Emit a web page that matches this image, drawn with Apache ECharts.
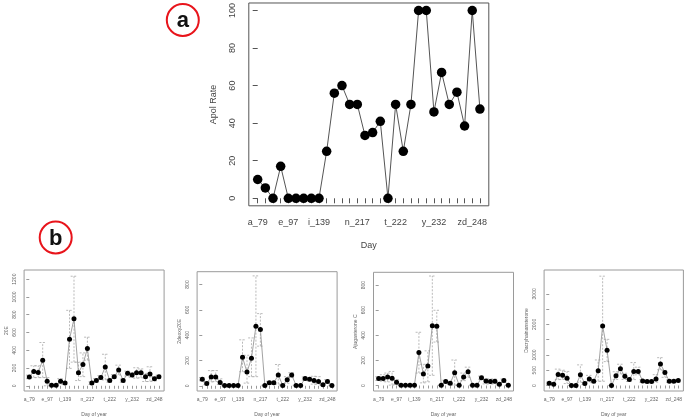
<!DOCTYPE html>
<html>
<head>
<meta charset="utf-8">
<script src="https://cdn.jsdelivr.net/npm/echarts@6/dist/echarts.min.js"></script>
<style>
  html, body { margin: 0; padding: 0; background: #fff; }
  #chart { width: 685px; height: 418px; }
</style>
</head>
<body>
<div id="chart"></div>
<script>
// sampling days (only some of them are labelled on the axis)
const days = [
  "a_79", "b_83", "c_87", "d_91", "e_97", "f_104", "g_111", "h_125", "i_139", "j_153",
  "k_167", "l_181", "m_195", "n_217", "o_218", "p_219", "q_220", "r_221", "t_222", "u_224",
  "v_226", "w_228", "x_230", "y_232", "z_235", "za_238", "zb_241", "zc_245", "zd_248", "ze_251"
];
const shownDays = [0, 4, 8, 13, 18, 23, 28];

// panel a
const apolRate = [10, 5.5, 0, 17, 0, 0, 0, 0, 0, 25, 56, 60, 50, 50, 33.5, 35, 41, 0, 50, 25,
  50, 100, 100, 46, 67, 50, 56.5, 38.5, 100, 47.5];
const apolTicks = [0, 20, 40, 60, 80, 100];

// panel b: means and error bar ends
const e20 = [100, 160, 150, 288, 52, 5, 5, 52, 30, 524, 753, 148, 240, 420, 30, 59, 92, 212, 59, 103,
  177, 59, 140, 122, 148, 148, 103, 133, 78, 103];
const e20Lo = [80, 92, 92, 92, 0, 0, 0, 22, 15, 196, 266, 59, 103, 288, 15, 40, 70, 66, 40, 85,
  122, 40, 110, 95, 85, 90, 48, 48, 55, 85];
const e20Hi = [120, 225, 225, 487, 92, 10, 10, 80, 45, 849, 1233, 266, 370, 547, 45, 80, 115, 355, 75, 125,
  232, 75, 165, 150, 203, 190, 140, 214, 100, 120];
const e20Ticks = [0, 200, 400, 600, 800, 1000, 1200];

const deoxy = [52, 18, 70, 70, 26, 3, 3, 3, 3, 225, 108, 218, 470, 445, 3, 23, 23, 85, 3, 47,
  85, 3, 3, 57, 52, 41, 34, 8, 34, 3];
const deoxyLo = [40, 8, 30, 34, 10, 0, 0, 0, 0, 111, 21, 72, 72, 313, 0, 12, 12, 13, 0, 20,
  65, 0, 0, 45, 40, 13, 13, 2, 20, 0];
const deoxyHi = [65, 28, 120, 120, 55, 5, 5, 5, 5, 363, 241, 378, 868, 570, 5, 35, 35, 168, 5, 72,
  104, 5, 5, 70, 65, 75, 72, 14, 48, 5];
const deoxyTicks = [0, 200, 400, 600, 800];

const ajug = [55, 55, 68, 57, 26, 3, 3, 3, 3, 262, 91, 156, 475, 472, 3, 31, 18, 101, 3, 68,
  109, 3, 3, 62, 36, 31, 34, 10, 39, 3];
const ajugLo = [40, 34, 29, 3, 10, 0, 0, 0, 0, 99, 21, 29, 81, 346, 0, 20, 8, 3, 0, 39,
  65, 0, 0, 50, 13, 13, 13, 4, 25, 0];
const ajugHi = [70, 86, 99, 112, 47, 5, 5, 5, 5, 424, 169, 276, 872, 599, 5, 42, 28, 203, 5, 99,
  146, 5, 5, 75, 52, 52, 50, 16, 52, 5];
const ajugTicks = [0, 200, 400, 600, 800];

const dacry = [75, 43, 364, 332, 236, 0, 0, 354, 64, 214, 140, 482, 1950, 1157, 0, 321, 546, 300, 193, 460,
  460, 150, 129, 129, 214, 707, 429, 139, 139, 161];
const dacryLo = [40, 20, 193, 200, 64, 0, 0, 107, 30, 118, 90, 139, 139, 782, 0, 200, 375, 200, 130, 193,
  350, 110, 90, 90, 107, 514, 268, 100, 100, 120];
const dacryHi = [110, 70, 536, 500, 460, 0, 0, 675, 100, 332, 200, 836, 3579, 1511, 0, 450, 696, 400, 260, 750,
  600, 190, 170, 170, 354, 911, 493, 180, 180, 200];
const dacryTicks = [0, 500, 1000, 1500, 2000, 2500, 3000];
const dacryLabels = [0, 500, 1000, 2000, 3000];

const FONT = "Liberation Sans";
const idx = days.map((_, i) => i);

function pairs(vals) {
  return vals.map((v, i) => [i, v]);
}

function errBars(lo, hi, capHalf, color) {
  return {
    type: "custom",
    data: lo.map((l, i) => [i, l, hi[i]]),
    encode: { x: 0, y: [1, 2] },
    clip: false,
    silent: true,
    z: 1,
    renderItem: (params, api) => {
      const i = api.value(0);
      const a = api.coord([i, api.value(1)]);
      const b = api.coord([i, api.value(2)]);
      const style = { stroke: color, lineWidth: 0.8, lineDash: [2, 1.5], fill: null };
      return {
        type: "group",
        children: [
          { type: "line", shape: { x1: a[0], y1: a[1], x2: b[0], y2: b[1] }, style },
          { type: "line", shape: { x1: b[0] - capHalf, y1: b[1], x2: b[0] + capHalf, y2: b[1] }, style },
          { type: "line", shape: { x1: a[0] - capHalf, y1: a[1], x2: a[0] + capHalf, y2: a[1] }, style },
        ],
      };
    },
  };
}

// one framed R-style plot
function panel(p) {
  const g = p.gi;
  return {
    grid: {
      left: p.left, top: p.top, width: p.width, height: p.height,
      show: true, borderColor: p.frame, borderWidth: 1, backgroundColor: "transparent",
    },
    xAxis: {
      type: "value", gridIndex: g, min: -1.16, max: 30.16,
      axisLine: { show: false }, splitLine: { show: false },
      axisTick: { customValues: idx, length: p.tickLen, lineStyle: { color: p.axisColor, width: 1 } },
      axisLabel: {
        customValues: shownDays, formatter: (v) => days[Math.round(v)],
        fontSize: p.font, fontFamily: FONT, color: p.textColor, margin: p.xMargin,
      },
      name: p.xName, nameLocation: "middle", nameGap: p.xNameGap,
      nameTextStyle: { fontSize: p.font, fontFamily: FONT, color: p.textColor },
    },
    yAxis: {
      type: "value", gridIndex: g, min: p.yMin, max: p.yMax,
      axisLine: { show: false }, splitLine: { show: false },
      axisTick: { customValues: p.yTicks, length: p.tickLen, lineStyle: { color: p.axisColor, width: 1 } },
      axisLabel: {
        customValues: p.yLabels || p.yTicks, rotate: 90, formatter: (v) => String(v),
        fontSize: p.font, fontFamily: FONT, color: p.textColor, margin: p.yMargin,
      },
      name: p.yName, nameLocation: "middle", nameRotate: 90, nameGap: p.yNameGap,
      nameTextStyle: { fontSize: p.font, fontFamily: FONT, color: p.textColor },
    },
    series: [
      ...(p.lo ? [Object.assign(errBars(p.lo, p.hi, 3.3, "#a8a8a8"), { xAxisIndex: g, yAxisIndex: g })] : []),
      {
        type: "line", xAxisIndex: g, yAxisIndex: g, data: pairs(p.vals),
        symbol: "circle", symbolSize: p.dot, z: 3,
        lineStyle: { color: p.lineColor, width: p.lineWidth },
        itemStyle: { color: "#000" },
        clip: false, silent: true,
      },
    ],
  };
}

const small = {
  width: 140, tickLen: 3, font: 5, frame: "#9a9a9a", axisColor: "#9a9a9a", textColor: "#666",
  xMargin: 6, xName: "Day of year", xNameGap: 21, yMargin: 7, yNameGap: 15,
  dot: 5, lineColor: "#8a8a8a", lineWidth: 0.8,
};

const panels = [
  panel({
    gi: 0, left: 248.8, top: 0.5, width: 240, height: 205.3, yMin: -4, yMax: 104,
    yTicks: apolTicks, tickLen: 5, font: 9, frame: "#555", axisColor: "#555", textColor: "#444",
    xMargin: 12, xName: "Day", xNameGap: 35, yMargin: 12, yName: "Apol Rate", yNameGap: 31,
    vals: apolRate, dot: 9.5, lineColor: "#555", lineWidth: 1,
  }),
  panel(Object.assign({}, small, {
    gi: 1, left: 24.1, top: 270, height: 123, yMin: -58.7, yMax: 1303, yTicks: e20Ticks,
    yName: "20E", vals: e20, lo: e20Lo, hi: e20Hi,
  })),
  panel(Object.assign({}, small, {
    gi: 2, left: 197.1, top: 271.7, height: 121.3, yMin: -41.2, yMax: 901, yTicks: deoxyTicks,
    yName: "2deoxy20E", vals: deoxy, lo: deoxyLo, hi: deoxyHi,
  })),
  panel(Object.assign({}, small, {
    gi: 3, left: 373.5, top: 272.3, height: 121, yMin: -43.75, yMax: 901.6, yTicks: ajugTicks,
    yName: "Ajugasterone C", vals: ajug, lo: ajugLo, hi: ajugHi,
  })),
  panel(Object.assign({}, small, {
    gi: 4, left: 544.1, top: 270, height: 123.3, yMin: -180, yMax: 3781, yTicks: dacryTicks,
    yLabels: dacryLabels, yName: "Dacryhainansterone", vals: dacry, lo: dacryLo, hi: dacryHi,
  })),
];

function badge(cx, cy, letter) {
  return [
    { type: "circle", shape: { cx, cy, r: 16 }, style: { stroke: "#e8141b", lineWidth: 2, fill: "#fff" } },
    {
      type: "text", x: cx, y: cy + 1,
      style: { text: letter, font: "bold 22px 'Liberation Sans'", fill: "#111", align: "center", verticalAlign: "middle" },
    },
  ];
}

const chart = echarts.init(document.getElementById("chart"), undefined, { renderer: "canvas" });
chart.setOption({
  animation: false,
  backgroundColor: "#fff",
  tooltip: { show: false },
  grid: panels.map((p) => p.grid),
  xAxis: panels.map((p) => p.xAxis),
  yAxis: panels.map((p) => p.yAxis),
  series: panels.flatMap((p) => p.series),
  graphic: [...badge(182.8, 20, "a"), ...badge(55.7, 237.5, "b")],
});
</script>
</body>
</html>
